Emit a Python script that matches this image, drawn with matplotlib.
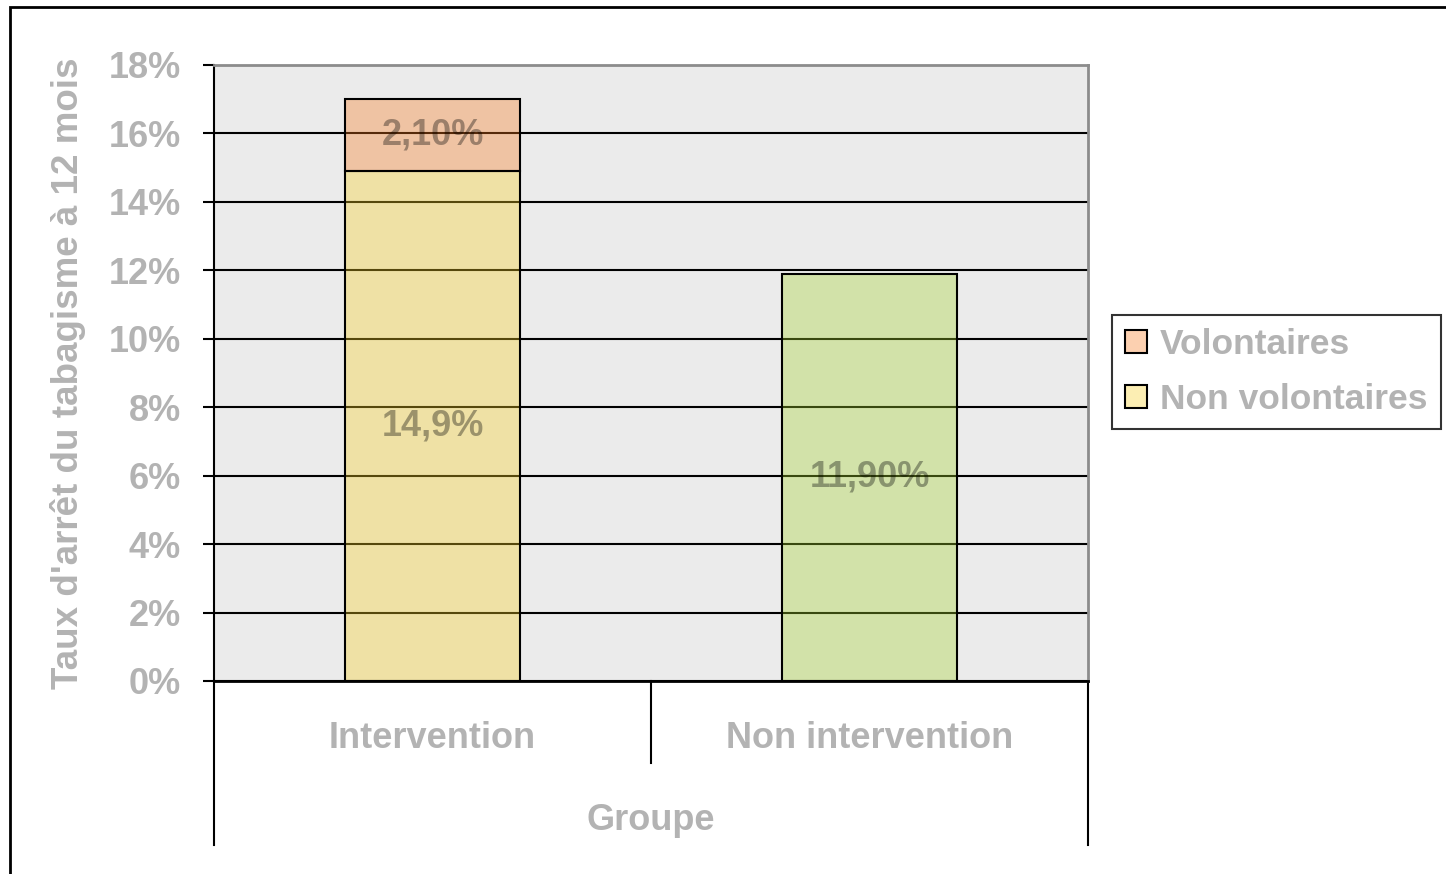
import matplotlib
matplotlib.use('Agg')
import matplotlib.pyplot as plt
import matplotlib.patches as mpatches
import numpy as np

plt.rcParams['font.family'] = ['Liberation Sans', 'DejaVu Sans']
plt.rcParams['font.weight'] = 'bold'
plt.rcParams['axes.labelweight'] = 'bold'

# data
groups = ['Intervention', 'Non intervention']
non_volontaires = [14.9, 11.9]
volontaires = [2.1, np.nan]
labels_nonvol = ['14,9%', '11,90%']
labels_vol = ['2,10%', '']
yticks = [0, 2, 4, 6, 8, 10, 12, 14, 16, 18]

grey = '#b3b3b3'
alpha = 0.35
col_yellow = (0.976, 0.82, 0.145, alpha)
col_green = (0.65, 0.83, 0.18, alpha)
col_orange = (0.976, 0.482, 0.12, alpha)
fs = 26

fig = plt.figure(figsize=(14.46, 8.74), dpi=100)
ax = fig.add_axes([214/1446, 193/874, 874/1446, 616/874])
ax.set_facecolor('#ebebeb')

x = np.arange(len(groups))
w = 0.40
bars1 = ax.bar(x, non_volontaires, w, edgecolor='black', linewidth=1.5, zorder=2)
for b, c in zip(bars1, [col_yellow, col_green]):
    b.set_facecolor(c)
bars2 = ax.bar(x, volontaires, w, bottom=non_volontaires, facecolor=col_orange,
               edgecolor='black', linewidth=1.5, zorder=2)

# value labels
for i in range(len(groups)):
    ax.text(x[i], non_volontaires[i] / 2, labels_nonvol[i], ha='center', va='center',
            fontsize=fs, color=(0, 0, 0, 0.35), zorder=4)
    if labels_vol[i]:
        ax.text(x[i], non_volontaires[i] + volontaires[i] / 2, labels_vol[i], ha='center', va='center',
                fontsize=fs, color=(0, 0, 0, 0.35), zorder=4)

ax.set_xlim(-0.5, 1.5)
ax.set_ylim(0, 18)
ax.set_yticks(yticks)
ax.set_yticklabels([f'{t}%' for t in yticks], fontsize=fs, color=grey)
ax.tick_params(axis='y', length=8, width=1.5, color='black', pad=16)
ax.set_xticks([])
ax.yaxis.grid(True, color='black', linewidth=1.5, zorder=1)
ax.set_axisbelow(True)

ax.spines['top'].set_color('#8c8c8c')
ax.spines['right'].set_color('#8c8c8c')
ax.spines['top'].set_linewidth(2)
ax.spines['right'].set_linewidth(2)
ax.spines['left'].set_linewidth(1.5)
ax.spines['bottom'].set_linewidth(2)

ax.set_ylabel("Taux d'arrêt du tabagisme à 12 mois", fontsize=26.5, color=grey,
              fontweight='bold', labelpad=16)

# category axis
trans = ax.get_xaxis_transform()
ax.plot([-0.5, -0.5], [0, -0.266], color='black', lw=1.5, transform=trans, clip_on=False)
ax.plot([0.5, 0.5], [0, -0.133], color='black', lw=1.5, transform=trans, clip_on=False)
ax.plot([1.5, 1.5], [0, -0.266], color='black', lw=1.5, transform=trans, clip_on=False)
for i, g in enumerate(groups):
    ax.text(x[i], -0.094, g, ha='center', va='center', fontsize=fs, color=grey, transform=trans)
ax.text(0.5, -0.226, 'Groupe', ha='center', va='center', fontsize=fs, color=grey, transform=trans)

# legend
handles = [mpatches.Patch(facecolor=col_orange, edgecolor='black', linewidth=1.5, label='Volontaires'),
           mpatches.Patch(facecolor=col_yellow, edgecolor='black', linewidth=1.5, label='Non volontaires')]
leg = fig.legend(handles=handles, loc='center left', bbox_to_anchor=(1112/1446, 1 - 372/874),
                 fontsize=25.5, frameon=True, fancybox=False, edgecolor='black',
                 handlelength=0.62, handleheight=0.62, handletextpad=0.36, borderpad=0.38,
                 labelspacing=0.62, borderaxespad=0)
leg.get_frame().set_linewidth(1.5)
for t in leg.get_texts():
    t.set_color(grey)

# outer border
fig.patches.append(mpatches.Rectangle((10/1446, -0.02), 1.0, 1 - 7/874 + 0.02, transform=fig.transFigure,
                                      fill=False, edgecolor='black', linewidth=2))

fig.savefig('out.png', dpi=100)
